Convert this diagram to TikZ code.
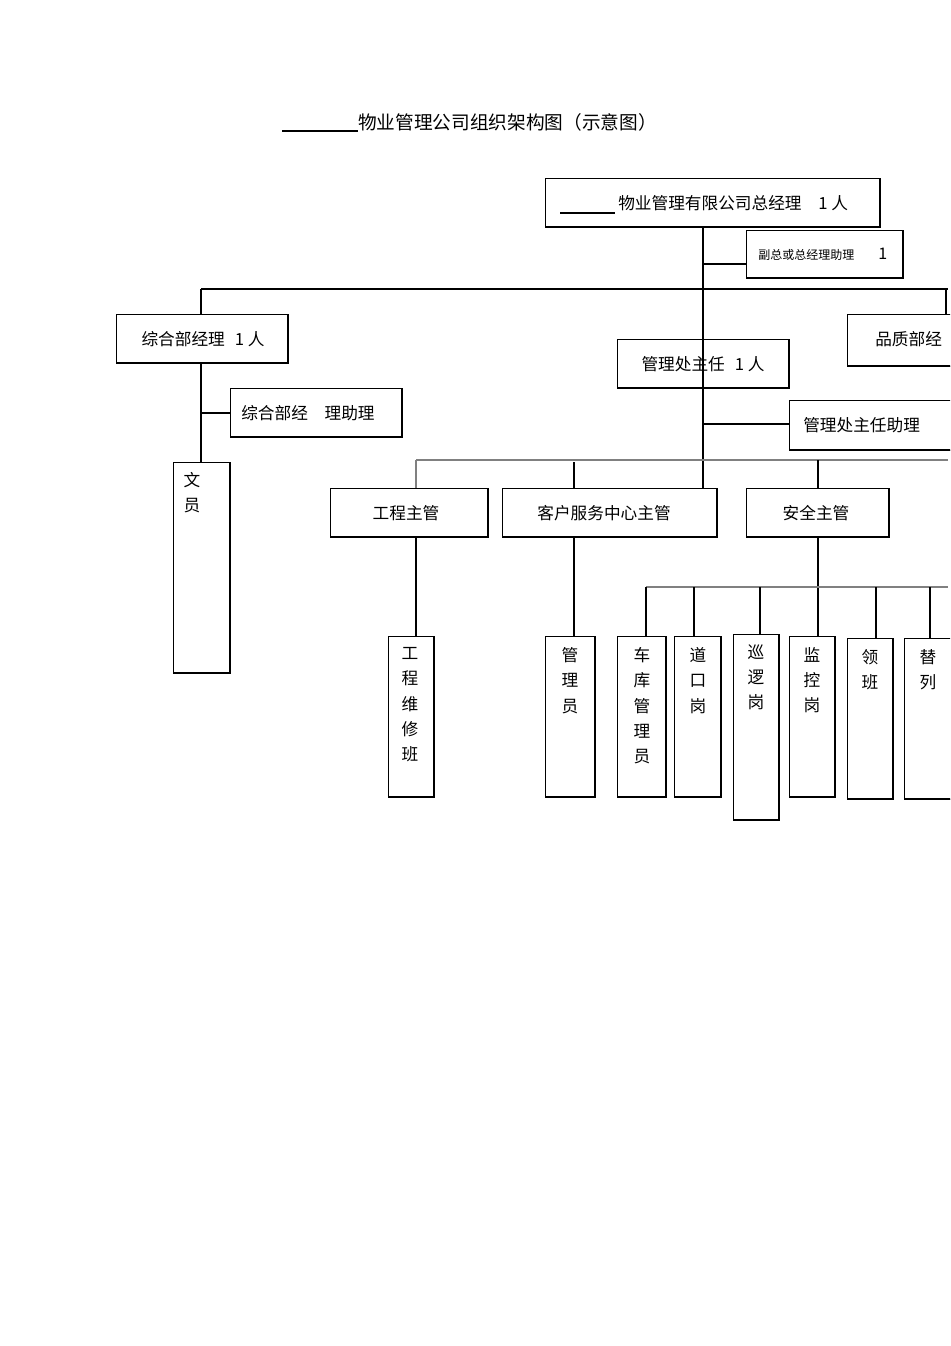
\documentclass[tikz,border=0pt]{standalone}
\usepackage{fontspec}
\setmainfont{Noto Sans CJK SC}
\begin{document}
\begin{tikzpicture}[x=0.75pt,y=-0.75pt,
  bx/.style={draw,line width=0.6pt},
  sh/.style={line width=1.6pt},
  ln/.style={line width=0.8pt},
  th/.style={line width=1.6pt},
  gr/.style={line width=0.8pt,gray},
  txt/.style={font=\fontsize{12.5}{16}\selectfont,inner sep=0pt},
  vt/.style={font=\fontsize{12.5}{19}\selectfont,align=center,inner sep=0pt,anchor=north}]
\useasboundingbox (0,0) rectangle (950,1346);
\clip (0,0) rectangle (950,1346);
\newcommand{\mybox}[5]{%
  \draw[bx] (#1,#2) rectangle (#3,#4);
  \draw[sh] (#1,#4) -- (#3,#4) -- (#3,#2);
  \coordinate (#5) at (#1,#2);}
% title
\node[txt,anchor=west,font=\fontsize{14}{16}\selectfont] (title) at (358,122) {物业管理公司组织架构图（示意图）};
\draw[ln] (282,131) -- (358,131);
% boxes
\mybox{545}{178}{880}{227}{gm}
\node[txt,anchor=west] (gmt) at (618,203) {物业管理有限公司总经理\hspace{1em}1 人};
\draw[ln] (560,213) -- (615,213);
\mybox{746}{230}{903}{278}{vp}
\node[txt,anchor=west,font=\fontsize{9}{11}\selectfont] (vpt) at (758,254) {副总或总经理助理\hspace{2em}\fontsize{12}{14}\selectfont 1};
\mybox{116}{314}{288}{363}{zh}
\node[txt] (zht) at (203,339) {综合部经理\hspace{0.6em}1 人};
\mybox{847}{314}{965}{366}{pz}
\node[txt,anchor=west] (pzt) at (875,339) {品质部经};
\mybox{617}{339}{789}{388}{gl}
\mybox{230}{388}{402}{437}{zhz}
\node[txt,anchor=west] (zhzt) at (241,413) {综合部经\hspace{1em}理助理};
\mybox{173}{462}{230}{673}{wy}
\node[vt] (wyt) at (192,472) {文\\员};
\mybox{789}{400}{965}{450}{glz}
\node[txt,anchor=west] (glzt) at (803,425) {管理处主任助理};
\mybox{330}{488}{488}{537}{gc}
\node[txt] (gct) at (406,513) {工程主管};
\mybox{502}{488}{717}{537}{kh}
\node[txt] (kht) at (604,513) {客户服务中心主管};
\mybox{746}{488}{889}{537}{aq}
\node[txt] (aqt) at (816,513) {安全主管};
\mybox{388}{636}{434}{797}{gw}
\node[vt] (gwt) at (410,647) {工\\程\\维\\修\\班};
\mybox{545}{636}{595}{797}{gly}
\node[vt] (glyt) at (570,647) {管\\理\\员};
\mybox{617}{636}{666}{797}{ck}
\node[vt] (ckt) at (642,647) {车\\库\\管\\理\\员};
\mybox{674}{636}{721}{797}{dk}
\node[vt] (dkt) at (698,647) {道\\口\\岗};
\mybox{733}{634}{779}{820}{xl}
\node[vt] (xlt) at (756,644) {巡\\逻\\岗};
\mybox{789}{636}{835}{797}{jk}
\node[vt] (jkt) at (812,647) {监\\控\\岗};
\mybox{847}{638}{893}{799}{lb}
\node[vt] (lbt) at (870,649) {领\\班};
\mybox{904}{638}{965}{799}{tl}
\node[vt] (tlt) at (928,649) {替\\列};
% connectors
\draw[ln] (703,227) -- (703,488);
\node[txt,fill=none] (glt) at (703,364) {管理处主任\hspace{0.6em}1 人};
\draw[ln] (703,264) -- (746,264);
\draw[th] (201,289) -- (948,289);
\draw[th] (201,289) -- (201,314);
\draw[th] (946,289) -- (946,314);
\draw[th] (201,363) -- (201,462);
\draw[th] (201,413) -- (230,413);
\draw[ln] (703,424) -- (789,424);
\draw[gr] (416,460) -- (948,460);
\draw[gr] (416,460) -- (416,488);
\draw[th] (574,462) -- (574,488);
\draw[ln] (818,460) -- (818,488);
\draw[ln] (416,537) -- (416,636);
\draw[th] (574,537) -- (574,636);
\draw[ln] (818,537) -- (818,636);
\draw[gr] (646,587) -- (948,587);
\foreach \x/\y in {646/636,694/636,760/634,876/638,930/638} \draw[ln] (\x,587) -- (\x,\y);
\end{tikzpicture}
\end{document}
